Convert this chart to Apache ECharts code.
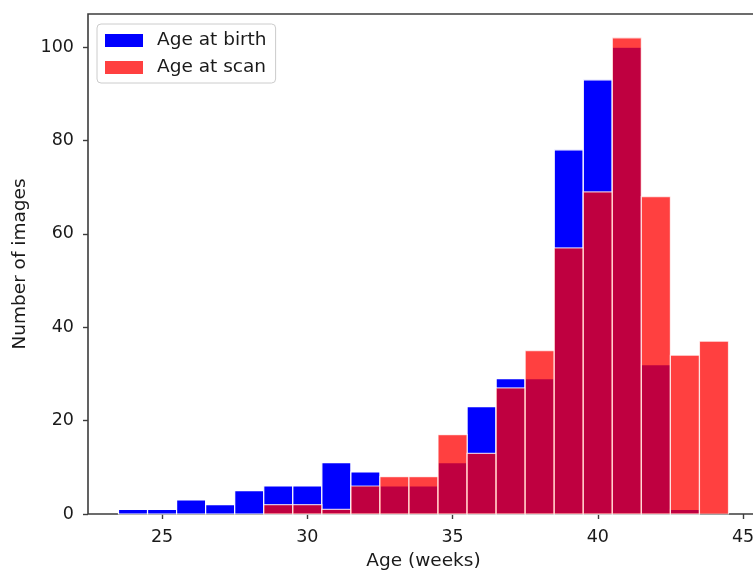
<!DOCTYPE html>
<html>
<head>
<meta charset="utf-8">
<script src="https://cdn.jsdelivr.net/npm/echarts@6/dist/echarts.min.js"></script>
<style>
  html, body { margin: 0; padding: 0; background: #fff; }
  #chart { width: 753px; height: 570px; }
</style>
</head>
<body>
<div id="chart"></div>
<script>
// Histogram bins (weeks), one per integer age, width 1
const binCenters = [24, 25, 26, 27, 28, 29, 30, 31, 32, 33, 34, 35, 36, 37, 38, 39, 40, 41, 42, 43, 44];
const ageAtBirth = [1, 1, 3, 2, 5, 6, 6, 11, 9, 6, 6, 11, 23, 29, 29, 78, 93, 100, 32, 1, 0];
const ageAtScan  = [0, 0, 0, 0, 0, 2, 2, 1, 6, 8, 8, 17, 13, 27, 35, 57, 69, 102, 68, 34, 37];
const xTicks = [25, 30, 35, 40, 45];
const yTicks = [0, 20, 40, 60, 80, 100];

const FONT = 'DejaVu Sans';
const TEXT = '#1a1a1a';
const BLUE = '#0000ff';
const RED = 'rgba(255,0,0,0.75)';

function histSeries(name, values, fill, edge) {
  return {
    name: name,
    type: 'custom',
    itemStyle: { color: fill },
    data: binCenters.map((c, i) => [c, values[i]]),
    encode: { x: 0, y: 1 },
    renderItem: function (params, api) {
      const x = api.value(0);
      const y = api.value(1);
      if (!y) return null;
      const top = api.coord([x - 0.5, y]);
      const base = api.coord([x + 0.5, 0]);
      return {
        type: 'rect',
        shape: { x: top[0], y: top[1], width: base[0] - top[0], height: base[1] - top[1] },
        style: { fill: fill, stroke: edge, lineWidth: 1.2 }
      };
    }
  };
}

const chart = echarts.init(document.getElementById('chart'), null, { renderer: 'canvas' });
chart.setOption({
  animation: false,
  backgroundColor: '#fff',
  textStyle: { fontFamily: FONT },
  grid: {
    left: 88, top: 14, width: 671, height: 500,
    outerBoundsMode: 'none',
    containLabel: false,
    show: true, borderColor: '#3c3c3c', borderWidth: 1.6, backgroundColor: 'transparent'
  },
  legend: {
    orient: 'vertical',
    left: 97, top: 24,
    itemWidth: 38, itemHeight: 13, itemGap: 8,
    icon: 'rect',
    padding: [7, 9, 6, 8],
    borderColor: '#cccccc', borderWidth: 1, borderRadius: 4,
    backgroundColor: 'rgba(255,255,255,0.85)',
    textStyle: { fontFamily: FONT, fontSize: 18.5, color: TEXT, padding: [0, 0, 0, 9] },
    data: ['Age at birth', 'Age at scan']
  },
  xAxis: {
    type: 'value',
    min: 22.45, max: 45.55,
    name: 'Age (weeks)', nameLocation: 'middle', nameGap: 38,
    nameTextStyle: { fontFamily: FONT, fontSize: 18.5, color: TEXT },
    axisLine: { show: false },
    axisTick: { show: true, length: 5, lineStyle: { color: '#3c3c3c', width: 1.4 }, customValues: xTicks },
    axisLabel: { fontFamily: FONT, fontSize: 17.5, color: TEXT, margin: 14, customValues: xTicks },
    splitLine: { show: false }
  },
  yAxis: {
    type: 'value',
    min: 0, max: 107.1,
    name: 'Number of images', nameLocation: 'middle', nameGap: 58, nameRotate: 90,
    nameTextStyle: { fontFamily: FONT, fontSize: 18.5, color: TEXT },
    axisLine: { show: false },
    axisTick: { show: true, length: 5, lineStyle: { color: '#3c3c3c', width: 1.4 }, customValues: yTicks },
    axisLabel: { fontFamily: FONT, fontSize: 17.5, color: TEXT, margin: 14, customValues: yTicks },
    splitLine: { show: false }
  },
  series: [
    histSeries('Age at birth', ageAtBirth, BLUE, '#ffffff'),
    histSeries('Age at scan', ageAtScan, RED, 'rgba(255,255,255,0.75)')
  ]
});
</script>
</body>
</html>
